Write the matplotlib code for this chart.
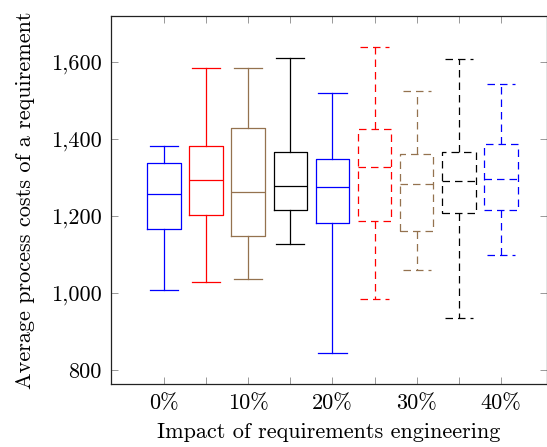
import matplotlib
matplotlib.use("Agg")
import matplotlib.pyplot as plt
from matplotlib.ticker import FuncFormatter

# =============================================
# DATOS
# =============================================
impacto = ["0%", "", "10%", "", "20%", "", "30%", "", "40%"]
whisker_bajo = [1010, 1030, 1038, 1128, 846, 985, 1061, 936, 1100]
q1 = [1167, 1203, 1149, 1216, 1182, 1188, 1162, 1208, 1216]
mediana = [1257, 1294, 1264, 1278, 1276, 1329, 1284, 1291, 1296]
q3 = [1338, 1382, 1429, 1367, 1350, 1426, 1361, 1366, 1389]
whisker_alto = [1382, 1584, 1584, 1612, 1520, 1639, 1525, 1608, 1543]

colores = ["#0000FF", "#FF0000", "#94724F", "#000000", "#0000FF",
           "#FF0000", "#94724F", "#000000", "#0000FF"]
estilos = ["-"] * 5 + [(0, (6, 4))] * 4

plt.rcParams["font.family"] = "cmr10"
plt.rcParams["axes.formatter.use_mathtext"] = True

# =============================================
# GRAFICO
# =============================================
fig = plt.figure(figsize=(5.47, 4.47), dpi=100)
ax = fig.add_axes([0.203, 0.141, 0.7965, 0.823])

posiciones = list(range(1, len(mediana) + 1))
for i, pos in enumerate(posiciones):
    stats = [{
        "whislo": whisker_bajo[i], "q1": q1[i], "med": mediana[i],
        "q3": q3[i], "whishi": whisker_alto[i], "fliers": [],
    }]
    props = dict(color=colores[i], linewidth=0.9, linestyle=estilos[i])
    ax.bxp(stats, positions=[pos], widths=0.8, capwidths=0.67,
           showfliers=False, boxprops=props, whiskerprops=props,
           capprops=props, medianprops=props, manage_ticks=False)

ax.set_xlim(-0.26, 10.09)
ax.set_ylim(765, 1720)
ax.set_xticks(posiciones)
ax.set_xticklabels(impacto)
ax.set_yticks([800, 1000, 1200, 1400, 1600])
ax.yaxis.set_major_formatter(FuncFormatter(lambda v, p: f"{int(v):,}"))

ax.tick_params(direction="in", top=True, right=True, length=5,
               width=0.6, color="#888888", labelsize=16, pad=7)
for s in ax.spines.values():
    s.set_linewidth(0.9)
    s.set_color("#222222")

ax.set_xlabel("Impact of requirements engineering", fontsize=16, labelpad=7)
ax.set_ylabel("Average process costs of a requirement", fontsize=16, labelpad=11)

fig.savefig("out.png", dpi=100)
